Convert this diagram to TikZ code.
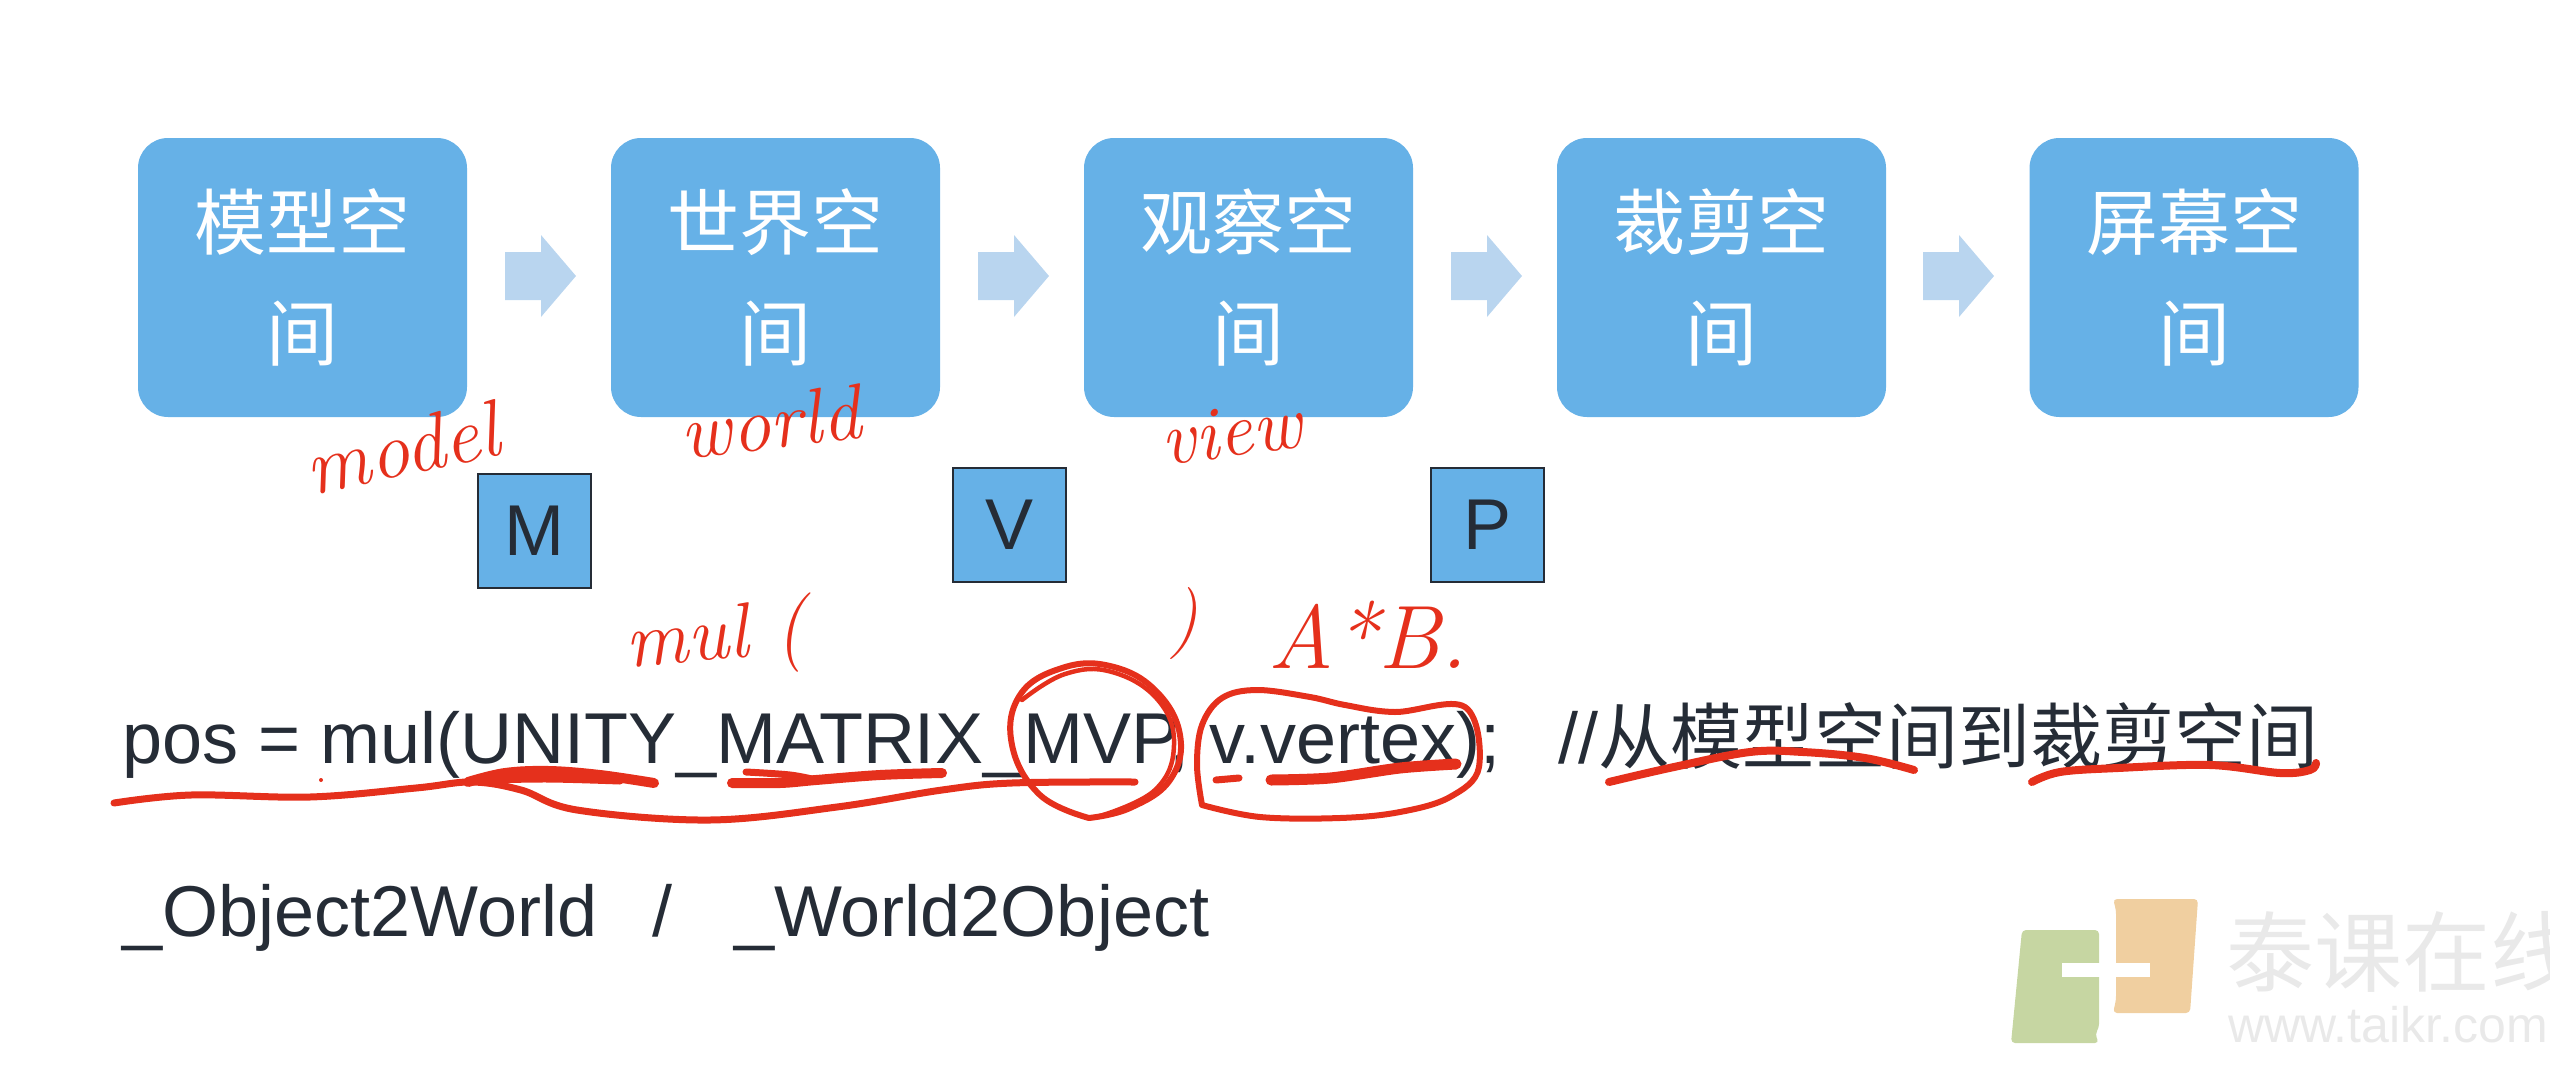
\documentclass[tikz,border=0pt]{standalone}
\usepackage{fontspec}
\setsansfont{Liberation Sans}
\newfontfamily\cjk{Noto Sans CJK SC}
\definecolor{boxblue}{HTML}{66B1E7}
\definecolor{arrowblue}{HTML}{B9D5EF}
\definecolor{ink}{HTML}{252C36}
\definecolor{pen}{HTML}{E5301C}
\definecolor{wmark}{HTML}{E9E9E9}
\definecolor{logogreen}{HTML}{C6D6A2}
\definecolor{logoorange}{HTML}{F0CFA0}
\tikzset{
  space/.style={fill=boxblue,rounded corners=30pt,minimum width=329pt,minimum height=279pt,
    inner sep=0pt,align=center,text=white,font=\cjk\fontsize{72}{111}\selectfont},
  matbox/.style={fill=boxblue,draw=ink,line width=2pt,minimum width=113pt,minimum height=114pt,
    inner sep=0pt,text=ink,font=\sffamily\fontsize{72}{80}\selectfont},
  code/.style={anchor=base west,inner sep=0pt,text=ink,font=\sffamily\fontsize{72}{80}\selectfont},
  hand/.style={inner sep=0pt,text=pen,font=\rmfamily\itshape\fontsize{80}{80}\selectfont},
  stroke/.style={draw=pen,line width=7pt,line cap=round,line join=round},
  thick stroke/.style={draw=pen,line width=10pt,line cap=round,line join=round},
  blockarrow/.style={fill=arrowblue},
  wm/.style={inner sep=0pt,text=wmark,anchor=base west}
}
\begin{document}
\begin{tikzpicture}[x=1pt,y=-1pt]
\useasboundingbox (0,0) rectangle (2550,1068);
\begin{scope}
\clip (0,0) rectangle (2550,1068);
% logo watermark
\fill[logogreen,rounded corners=4pt] (2022,930) -- (2099,930) -- (2099,1028) -- (2095,1034) -- (2099,1043) -- (2011,1043) -- cycle;
\fill[logoorange,rounded corners=4pt] (2113,899) -- (2198,899) -- (2190,1013) -- (2113,1013) -- (2116,1000) -- (2116,910) -- cycle;
\fill[white] (2062,963) rectangle (2150,977);
\node[wm,font=\cjk\fontsize{88}{90}\selectfont] (wmname) at (2226,985) {泰课在线};
\node[wm,font=\sffamily\fontsize{50}{54}\selectfont] (wmurl) at (2228,1042) {www.taikr.com};
\end{scope}
% space boxes
\node[space] (s1) at (302.5,277.5) {模型空\\间};
\node[space] (s2) at (775.5,277.5) {世界空\\间};
\node[space] (s3) at (1248.5,277.5) {观察空\\间};
\node[space] (s4) at (1721.5,277.5) {裁剪空\\间};
\node[space] (s5) at (2194,277.5) {屏幕空\\间};
% block arrows
\foreach \ax in {505,978,1451,1923}{
  \fill[blockarrow] (\ax,252) -- ++(36,0) -- ++(0,-17) -- ++(35,41) -- ++(-35,41) -- ++(0,-17) -- ++(-36,0) -- cycle;
}
% matrix boxes
\node[matbox] (m) at (534,531) {M};
\node[matbox] (v) at (1009,525) {V};
\node[matbox] (p) at (1487,525) {P};
% code
\node[code] (l1) at (122,763) {pos = mul(UNITY\_MATRIX\_MVP, v.vertex);};
\node[code] (c1) at (1558,763) {//{\cjk 从模型空间到裁剪空间}};
\node[code] (l2) at (122,936) {\_Object2World};
\node[code] (sl) at (652,936) {/};
\node[code] (l3) at (734,936) {\_World2Object};
% handwriting
\node[hand,rotate=12] (hmodel) at (402,448) {model};
\node[hand,rotate=7,font=\rmfamily\itshape\fontsize{78}{78}\selectfont] (hworld) at (770,422) {world};
\node[hand,rotate=8,font=\rmfamily\itshape\fontsize{76}{76}\selectfont] (hview) at (1231,432) {view};
\node[hand,rotate=5,font=\rmfamily\itshape\fontsize{78}{78}\selectfont] (hmul) at (716,640) {mul (};
\node[hand,font=\rmfamily\itshape\fontsize{72}{72}\selectfont] (hclose) at (1184,624) {)};
\node[hand,font=\rmfamily\itshape\fontsize{90}{90}\selectfont] (hab) at (1368,635) {A*B.};
% red marks
\draw[stroke] plot[smooth,tension=0.6] coordinates {(114,803) (191,795) (310,797) (416,788) (472,782) (521,790) (577,810) (710,820) (837,807) (942,790) (1012,783) (1135,782)};
\draw[thick stroke] plot[smooth,tension=0.6] coordinates {(468,782) (505,773) (549,771) (600,775) (654,783)};
\draw[stroke] plot[smooth,tension=0.6] coordinates {(490,780) (549,779) (620,781)};
\draw[thick stroke] plot[smooth,tension=0.6] coordinates {(732,783) (780,783) (816,780) (880,775) (942,773)};
\draw[stroke] plot[smooth,tension=0.6] coordinates {(746,772) (790,775) (816,780)};
\fill[pen] (321,780) circle (2pt);
% MVP circle
\draw[stroke,line width=6pt] plot[smooth,tension=0.7] coordinates {(1089,818) (1040,795) (1012,745) (1020,695) (1062,668) (1110,666) (1155,690) (1180,735) (1170,780) (1130,808) (1089,818)};
\draw[stroke,line width=4.5pt] plot[smooth,tension=0.7] coordinates {(1022,700) (1065,674) (1112,672) (1158,700) (1174,745) (1155,790) (1100,816)};
% v.vertex loop
\draw[stroke,line width=6pt] plot[smooth,tension=0.6] coordinates {(1202,805) (1197,765) (1202,725) (1222,698) (1257,690) (1310,697) (1345,705) (1395,712) (1465,707) (1479,767) (1450,797) (1400,812) (1340,818) (1260,817) (1202,805)};
\draw[thick stroke,line width=11pt] plot[smooth,tension=0.5] coordinates {(1271,780) (1330,778) (1400,768) (1456,764)};
\draw[stroke] (1216,780) -- (1239,778);
% comment underlines
\draw[stroke,line width=8pt] plot[smooth,tension=0.6] coordinates {(1609,782) (1674,767) (1750,752) (1803,752) (1865,758) (1914,770)};
\draw[stroke,line width=8pt] plot[smooth,tension=0.6] coordinates {(2032,782) (2060,772) (2118,768) (2210,765) (2280,773) (2310,770) (2316,763)};
\end{tikzpicture}
\end{document}
